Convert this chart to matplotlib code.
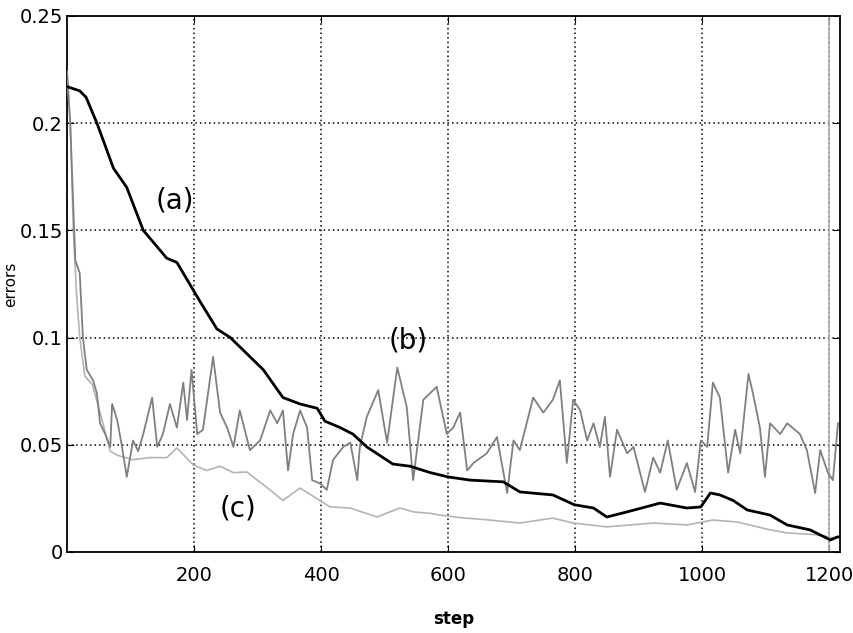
import matplotlib
matplotlib.use("Agg")
import matplotlib.pyplot as plt

plt.rcParams['font.family'] = ['DejaVu Sans']

# curva (a): negra
a_x = [0, 20, 30, 47, 73, 94, 120, 157, 173, 199, 209, 236, 257, 309, 340, 367, 394, 406,
       430, 450, 472, 513, 540, 572, 600, 635, 687, 713, 765, 799, 829, 850, 882, 934,
       976, 998, 1013, 1028, 1049, 1071, 1107, 1134, 1170, 1202, 1213, 1217]
a_y = [0.217, 0.215, 0.212, 0.200, 0.179, 0.170, 0.150, 0.137, 0.135, 0.122, 0.117, 0.104,
       0.100, 0.085, 0.072, 0.069, 0.067, 0.061, 0.058, 0.055, 0.049, 0.041, 0.040, 0.037,
       0.035, 0.0335, 0.0327, 0.028, 0.0266, 0.022, 0.0205, 0.0163, 0.0187, 0.0228, 0.0205,
       0.021, 0.0275, 0.0266, 0.024, 0.0196, 0.0172, 0.0126, 0.0103, 0.0056, 0.007, 0.007]

# curva (b): gris, ruidosa
b_x = [0, 5, 10, 13, 20, 25, 31, 41, 47, 52, 60, 68, 71, 79, 86, 94, 104, 112, 120, 134,
       142, 151, 162, 173, 183, 189, 196, 205, 214, 230, 241, 252, 262, 272, 288, 304, 320,
       331, 340, 348, 356, 367, 378, 386, 398, 409, 419, 435, 446, 457, 461, 472, 490, 504,
       520, 535, 545, 561, 582, 598, 608, 619, 630, 640, 661, 677, 693, 703, 713, 734, 750,
       765, 776, 787, 797, 808, 819, 829, 839, 847, 855, 866, 882, 892, 910, 923, 934, 946,
       960, 976, 989, 998, 1008, 1017, 1028, 1041, 1052, 1060, 1073, 1080, 1091, 1099, 1107,
       1123, 1134, 1154, 1165, 1178, 1186, 1198, 1206, 1214]
b_y = [0.224, 0.200, 0.160, 0.136, 0.130, 0.100, 0.085, 0.080, 0.074, 0.060, 0.055, 0.049,
       0.069, 0.0615, 0.050, 0.035, 0.052, 0.047, 0.055, 0.072, 0.049, 0.055, 0.069, 0.058,
       0.079, 0.0615, 0.085, 0.055, 0.057, 0.091, 0.065, 0.058, 0.049, 0.066, 0.0475, 0.052,
       0.066, 0.060, 0.066, 0.038, 0.055, 0.066, 0.058, 0.0335, 0.032, 0.029, 0.043, 0.049,
       0.051, 0.0335, 0.049, 0.063, 0.0755, 0.051, 0.086, 0.0675, 0.0335, 0.071, 0.077, 0.055,
       0.058, 0.065, 0.038, 0.0415, 0.046, 0.0536, 0.0275, 0.052, 0.0475, 0.072, 0.065, 0.071,
       0.080, 0.0415, 0.071, 0.066, 0.052, 0.060, 0.049, 0.063, 0.035, 0.057, 0.046, 0.049,
       0.028, 0.044, 0.037, 0.052, 0.029, 0.0415, 0.028, 0.052, 0.049, 0.079, 0.072, 0.037,
       0.057, 0.046, 0.083, 0.074, 0.058, 0.035, 0.060, 0.055, 0.060, 0.055, 0.0475, 0.0275,
       0.0475, 0.037, 0.0335, 0.060]

# curva (c): gris claro
c_x = [0, 5, 10, 15, 20, 28, 40, 52, 68, 80, 104, 130, 157, 173, 199, 220, 241, 262, 283,
       315, 340, 367, 398, 414, 446, 488, 524, 545, 572, 587, 620, 661, 713, 765, 797, 850,
       923, 976, 1017, 1055, 1107, 1134, 1186, 1206, 1217]
c_y = [0.224, 0.200, 0.150, 0.120, 0.100, 0.082, 0.078, 0.065, 0.047, 0.045, 0.043, 0.044,
       0.044, 0.0485, 0.0405, 0.038, 0.040, 0.037, 0.0373, 0.030, 0.024, 0.0298, 0.024, 0.021,
       0.0205, 0.0163, 0.0205, 0.0187, 0.018, 0.0172, 0.016, 0.015, 0.0135, 0.0158, 0.0135,
       0.0117, 0.0135, 0.0126, 0.0149, 0.014, 0.0103, 0.0089, 0.0079, 0.0065, 0.007]

x_ticks = [200, 400, 600, 800, 1000, 1200]
y_ticks = [0, 0.05, 0.1, 0.15, 0.2, 0.25]
y_labels = ['0', '0.05', '0.1', '0.15', '0.2', '0.25']

fig = plt.figure(figsize=(8.54, 6.33), dpi=100)
ax = fig.add_axes([0.0785, 0.128, 0.905, 0.847])

ax.plot(c_x, c_y, color='#b4b4b4', lw=1.2, zorder=3)
ax.plot(b_x, b_y, color='#808080', lw=1.3, zorder=4)
ax.plot(a_x, a_y, color='black', lw=2.0, zorder=5)
ax.axvline(1200, color='#b0b0b0', lw=1.2, zorder=2)

ax.set_xlim(0, 1217)
ax.set_ylim(0, 0.25)
ax.set_xticks(x_ticks)
ax.set_yticks(y_ticks)
ax.set_yticklabels(y_labels)
ax.grid(True, color='black', linestyle=(0, (1, 2)), lw=1.1)
ax.tick_params(direction='in', top=True, right=True, length=5, labelsize=14)
ax.tick_params(axis='x', pad=10)
ax.tick_params(axis='y', pad=3)
for s in ax.spines.values():
    s.set_linewidth(1.3)

ax.text(170, 0.1638, '(a)', fontsize=20, ha='center', va='center')
ax.text(537, 0.0988, '(b)', fontsize=20, ha='center', va='center')
ax.text(269, 0.0205, '(c)', fontsize=20, ha='center', va='center')

ax.set_ylabel('errors', fontsize=11)
ax.yaxis.set_label_coords(-0.063, 0.5)
ax.set_xlabel('step', fontsize=12, fontweight='bold')
ax.xaxis.set_label_coords(0.5, -0.108)

fig.savefig('out.png', dpi=100)
